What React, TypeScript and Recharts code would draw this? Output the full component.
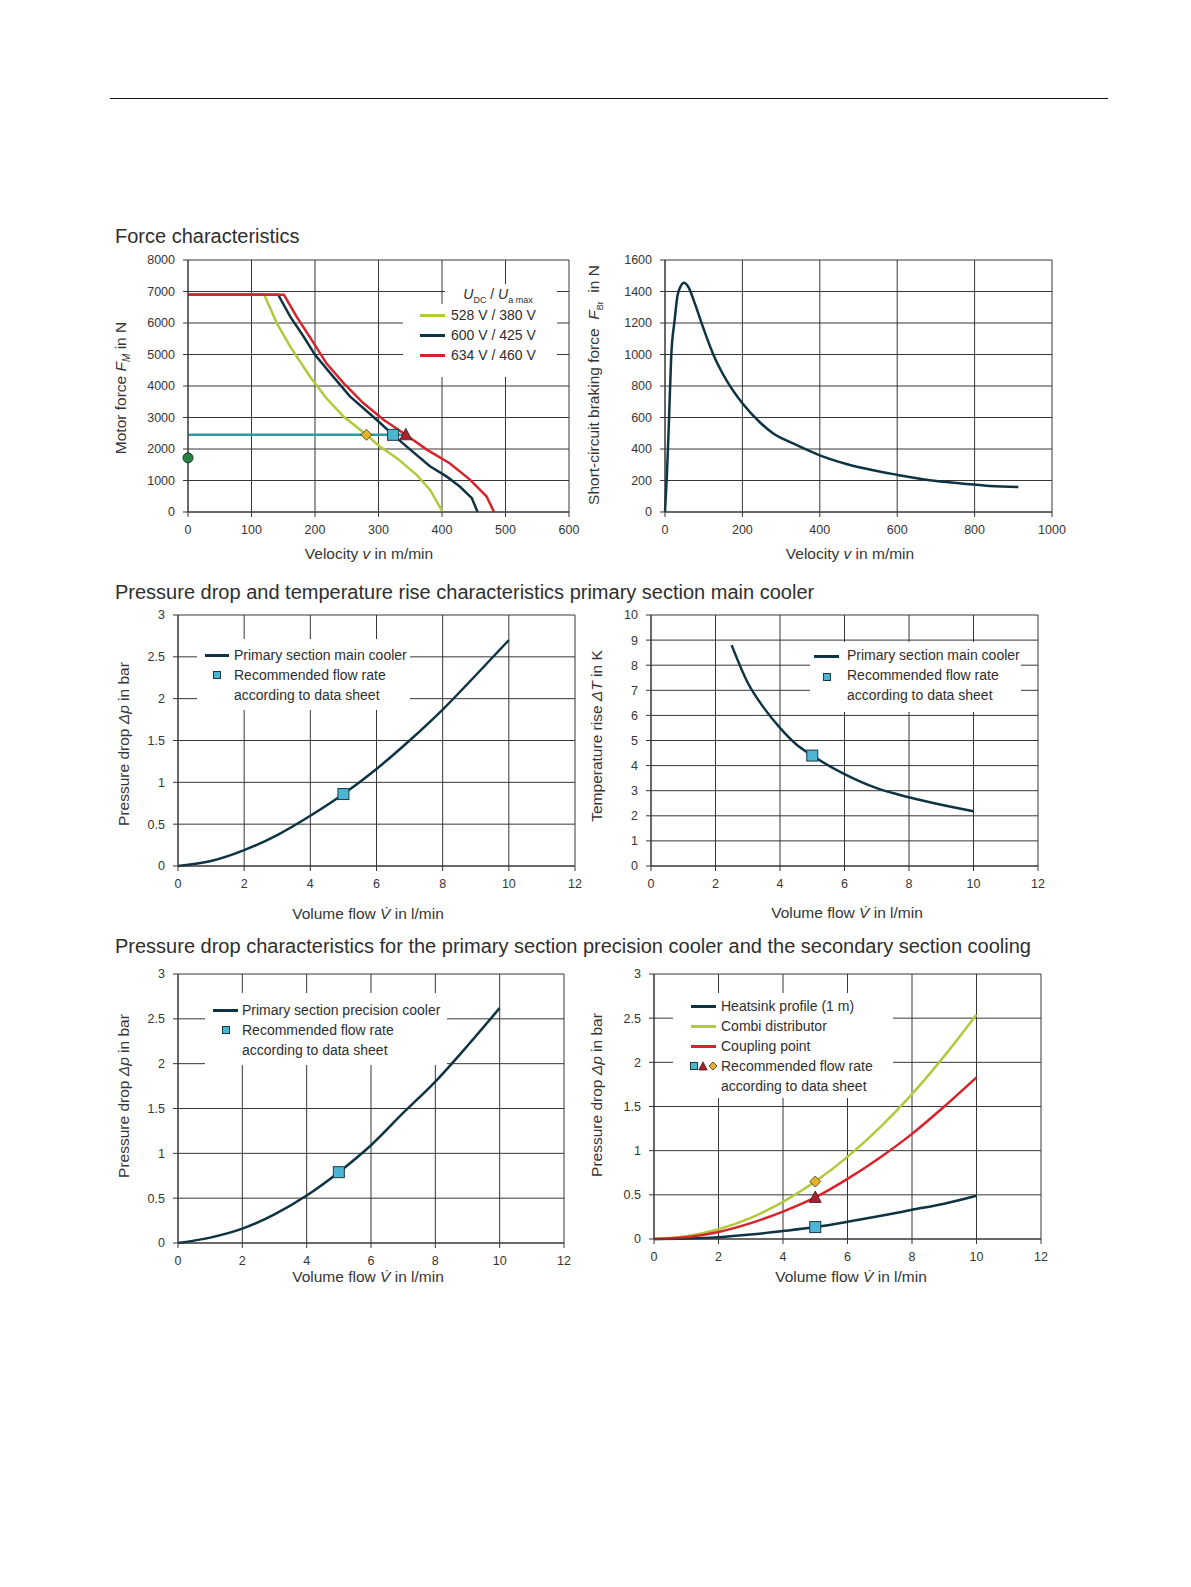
import React from "react";
import { ComposedChart, Line, Scatter, XAxis, YAxis, CartesianGrid } from "recharts";

// ---- Force characteristics (velocity in m/min, force in N) ----
const v528 = [0, 120, 140, 161, 192, 218, 245, 281, 302, 329, 360, 381, 401];
const f528 = [6900, 6900, 5990, 5250, 4300, 3610, 3030, 2450, 2080, 1710, 1180, 710, 0];
const v600 = [0, 142, 161, 182, 200, 224, 255, 297, 323, 350, 381, 407, 428, 447, 456];
const f600 = [6900, 6900, 6200, 5570, 4990, 4410, 3670, 2930, 2450, 1980, 1450, 1130, 810, 440, 0];
const v634 = [0, 151, 171, 198, 218, 245, 276, 308, 343, 376, 412, 444, 470, 482];
const f634 = [6900, 6900, 6200, 5360, 4720, 4090, 3460, 2930, 2450, 1980, 1550, 1030, 500, 0];
const opForce = 2450;
const opV = [281, 323, 343]; // diamond, square, triangle
const standstillForce = 1720;

// ---- Short-circuit braking force ----
const vBr = [0, 5, 10, 16, 25, 32, 42, 49, 60, 77, 98, 124, 159, 200, 245, 279, 331, 400, 469, 538, 598, 684, 771, 840, 913];
const fBr = [0, 240, 560, 985, 1220, 1370, 1440, 1455, 1430, 1325, 1175, 1005, 835, 690, 570, 500, 435, 360, 305, 265, 237, 201, 180, 165, 158];

// ---- Coolers (flow in l/min) ----
const flow = [0, 1, 2, 3, 4, 5, 6, 7, 8, 9, 10];
const dpMainCooler = [0, 0.06, 0.19, 0.37, 0.6, 0.86, 1.16, 1.5, 1.87, 2.28, 2.7];
const flowT = [2.5, 3, 3.5, 4, 4.5, 5, 6, 7, 8, 9, 10];
const dTMainCooler = [8.8, 7.3, 6.3, 5.5, 4.85, 4.4, 3.66, 3.1, 2.74, 2.44, 2.18];
const dpPrecision = [0, 0.06, 0.16, 0.32, 0.53, 0.79, 1.09, 1.45, 1.8, 2.2, 2.62];
const dpHeatsink = [0, 0.005, 0.02, 0.05, 0.09, 0.135, 0.195, 0.26, 0.33, 0.4, 0.49];
const dpCombi = [0, 0.03, 0.11, 0.24, 0.42, 0.65, 0.93, 1.26, 1.64, 2.07, 2.54];
const dpCoupling = [0, 0.02, 0.08, 0.18, 0.31, 0.47, 0.68, 0.92, 1.19, 1.5, 1.83];
const recFlow = 5;

// ---- ticks ----
const ticksV1 = [0, 100, 200, 300, 400, 500, 600];
const ticksF1 = [0, 1000, 2000, 3000, 4000, 5000, 6000, 7000, 8000];
const ticksV2 = [0, 200, 400, 600, 800, 1000];
const ticksF2 = [0, 200, 400, 600, 800, 1000, 1200, 1400, 1600];
const ticksFlow = [0, 2, 4, 6, 8, 10, 12];
const ticksDp = [0, 0.5, 1, 1.5, 2, 2.5, 3];
const ticksDT = [0, 1, 2, 3, 4, 5, 6, 7, 8, 9, 10];

const DARK = "#0e3443";
const GREEN = "#b3c83a";
const RED = "#d9232c";
const TEAL = "#2b9ba6";
const GRID = "#363636";
const TEXT = "#353535";
const FONT = "'Liberation Sans', Arial, Helvetica, sans-serif";

const zip = (xs: number[], ys: number[]) => xs.map((x, i) => ({ x, y: ys[i] }));
const pts = (xs: number[], y: number | number[]) =>
  xs.map((x, i) => ({ x, y: Array.isArray(y) ? y[i] : y }));

const SquareMark = (p: any) => (
  <rect x={p.cx - 5.5} y={p.cy - 5.5} width={11} height={11} fill="#4bb5d4" stroke="#1c3a44" strokeWidth={1} />
);
const TriMark = (p: any) => (
  <path d={`M${p.cx},${p.cy - 6.5} L${p.cx + 6},${p.cy + 5} L${p.cx - 6},${p.cy + 5} Z`} fill="#a8222f" stroke="#3a1418" strokeWidth={0.8} />
);
const DiaMark = (p: any) => (
  <path d={`M${p.cx},${p.cy - 5.5} L${p.cx + 5.5},${p.cy} L${p.cx},${p.cy + 5.5} L${p.cx - 5.5},${p.cy} Z`} fill="#e6b22c" stroke="#3a3014" strokeWidth={0.8} />
);
const DotMark = (p: any) => (
  <circle cx={p.cx} cy={p.cy} r={5} fill="#2a8046" stroke="#123a20" strokeWidth={1} />
);

const tickStyle = { fontSize: 12.5, fill: TEXT, fontFamily: FONT };

function Panel(props: {
  x: number; y: number; w: number; h: number;
  xDomain: [number, number]; xTicks: number[];
  yDomain: [number, number]; yTicks: number[];
  children: React.ReactNode;
}) {
  const padL = 50, padT = 12, padR = 26, padB = 32;
  return (
    <div style={{ position: "absolute", left: props.x - padL, top: props.y - padT }}>
      <ComposedChart
        width={props.w + padL + padR}
        height={props.h + padT + padB}
        margin={{ top: padT, right: padR, left: 0, bottom: 0 }}
      >
        <CartesianGrid stroke={GRID} strokeWidth={1} />
        <XAxis
          type="number"
          dataKey="x"
          domain={props.xDomain}
          ticks={props.xTicks}
          interval={0}
          height={padB}
          tick={tickStyle}
          tickSize={5}
          tickMargin={8}
          axisLine={{ stroke: GRID }}
          tickLine={{ stroke: GRID }}
        />
        <YAxis
          type="number"
          domain={props.yDomain}
          ticks={props.yTicks}
          interval={0}
          width={padL}
          tick={tickStyle}
          tickSize={5}
          tickMargin={8}
          axisLine={{ stroke: GRID }}
          tickLine={{ stroke: GRID }}
        />
        {props.children}
      </ComposedChart>
    </div>
  );
}

const abs = (left: number, top: number, extra: React.CSSProperties = {}): React.CSSProperties => ({
  position: "absolute", left, top, ...extra,
});

function Title({ x, y, children }: { x: number; y: number; children: React.ReactNode }) {
  return (
    <div style={abs(x, y, { fontSize: 20, lineHeight: "20px", transform: "translateY(-50%)", whiteSpace: "nowrap", color: "#2e2e2e" })}>
      {children}
    </div>
  );
}

function AxisLabel({ x, y, rotate, children }: { x: number; y: number; rotate?: boolean; children: React.ReactNode }) {
  return (
    <div
      style={abs(x, y, {
        fontSize: 15.5,
        lineHeight: "16px",
        whiteSpace: "nowrap",
        color: TEXT,
        transform: `translate(-50%, -50%)${rotate ? " rotate(-90deg)" : ""}`,
      })}
    >
      {children}
    </div>
  );
}

function Box({ x1, y1, x2, y2 }: { x1: number; y1: number; x2: number; y2: number }) {
  return <div style={abs(x1, y1, { width: x2 - x1, height: y2 - y1, background: "#fff" })} />;
}

function Swatch({ x1, x2, y, color }: { x1: number; x2: number; y: number; color: string }) {
  return <div style={abs(x1, y - 1.5, { width: x2 - x1, height: 3, background: color })} />;
}

function LText({ x, y, children }: { x: number; y: number; children: React.ReactNode }) {
  return (
    <div style={abs(x, y, { fontSize: 14, lineHeight: "14px", transform: "translateY(-50%)", whiteSpace: "nowrap", color: "#2e2e2e" })}>
      {children}
    </div>
  );
}

function MiniMark({ x, y, kind }: { x: number; y: number; kind: "sq" | "tri" | "dia" }) {
  return (
    <svg width={10} height={10} style={abs(x - 5, y - 5)}>
      {kind === "sq" && <rect x={1.5} y={1.5} width={7} height={7} fill="#4bb5d4" stroke="#1c3a44" strokeWidth={1} />}
      {kind === "tri" && <path d="M5,0.8 L9.2,9 L0.8,9 Z" fill="#a8222f" stroke="#3a1418" strokeWidth={0.7} />}
      {kind === "dia" && <path d="M5,1 L9,5 L5,9 L1,5 Z" fill="#e6b22c" stroke="#3a3014" strokeWidth={0.8} />}
    </svg>
  );
}

const Vdot = () => <i>V&#775;</i>;

export default function App() {
  const lw = 2.5;
  return (
    <div style={{ position: "absolute", left: 0, top: 0, width: 1191, height: 1587, background: "#fff", overflow: "hidden", fontFamily: FONT }}>
      <div style={abs(110, 98, { width: 998, height: 1.3, background: "#111" })} />

      {/* ---------- Force characteristics ---------- */}
      <Title x={115} y={236}>Force characteristics</Title>

      <Panel x={188} y={260} w={381} h={252} xDomain={[0, 600]} xTicks={ticksV1} yDomain={[0, 8000]} yTicks={ticksF1}>
        <Line data={pts([0, opV[2]], opForce)} dataKey="y" stroke={TEAL} strokeWidth={2.5} dot={false} isAnimationActive={false} type="linear" />
        <Line data={zip(v528, f528)} dataKey="y" stroke={GREEN} strokeWidth={lw} dot={false} isAnimationActive={false} type="linear" />
        <Line data={zip(v600, f600)} dataKey="y" stroke={DARK} strokeWidth={lw} dot={false} isAnimationActive={false} type="linear" />
        <Line data={zip(v634, f634)} dataKey="y" stroke={RED} strokeWidth={lw} dot={false} isAnimationActive={false} type="linear" />
        <Scatter data={pts([opV[0]], opForce)} dataKey="y" shape={DiaMark} isAnimationActive={false} />
        <Scatter data={pts([opV[1]], opForce)} dataKey="y" shape={SquareMark} isAnimationActive={false} />
        <Scatter data={pts([opV[2]], opForce)} dataKey="y" shape={TriMark} isAnimationActive={false} />
        <Scatter data={pts([0], standstillForce)} dataKey="y" shape={DotMark} isAnimationActive={false} />
      </Panel>
      <Box x1={445} y1={284} x2={557} y2={304} />
      <Box x1={403} y1={304} x2={557} y2={377} />
      <div style={abs(498, 297, { fontSize: 14, lineHeight: "14px", transform: "translate(-50%, -50%)", whiteSpace: "nowrap", color: "#2e2e2e" })}>
        <i>U</i><span style={{ fontSize: 9, verticalAlign: -4 }}>DC</span> / <i>U</i>
        <span style={{ fontSize: 9, verticalAlign: -4 }}>a max</span>
      </div>
      <Swatch x1={420} x2={445} y={315} color={GREEN} />
      <LText x={451} y={315}>528 V / 380 V</LText>
      <Swatch x1={420} x2={445} y={335} color={DARK} />
      <LText x={451} y={335}>600 V / 425 V</LText>
      <Swatch x1={420} x2={445} y={355} color={RED} />
      <LText x={451} y={355}>634 V / 460 V</LText>
      <AxisLabel x={369} y={554}>Velocity <i>v</i> in m/min</AxisLabel>
      <AxisLabel x={124} y={388} rotate>
        Motor force <i>F</i><i style={{ fontSize: 10, verticalAlign: -4 }}>M</i> in N
      </AxisLabel>

      <Panel x={665} y={260} w={387} h={252} xDomain={[0, 1000]} xTicks={ticksV2} yDomain={[0, 1600]} yTicks={ticksF2}>
        <Line data={zip(vBr, fBr)} dataKey="y" stroke={DARK} strokeWidth={lw} dot={false} isAnimationActive={false} type="monotone" />
      </Panel>
      <AxisLabel x={850} y={554}>Velocity <i>v</i> in m/min</AxisLabel>
      <AxisLabel x={597} y={385} rotate>
        Short-circuit braking force&nbsp; <i>F</i><span style={{ fontSize: 9, verticalAlign: -4 }}>Br</span>&nbsp; in N
      </AxisLabel>

      {/* ---------- Main cooler ---------- */}
      <Title x={115} y={592}>Pressure drop and temperature rise characteristics primary section main cooler</Title>

      <Panel x={178} y={615} w={397} h={251} xDomain={[0, 12]} xTicks={ticksFlow} yDomain={[0, 3]} yTicks={ticksDp}>
        <Line data={zip(flow, dpMainCooler)} dataKey="y" stroke={DARK} strokeWidth={lw} dot={false} isAnimationActive={false} type="monotone" />
        <Scatter data={pts([recFlow], dpMainCooler[flow.indexOf(recFlow)])} dataKey="y" shape={SquareMark} isAnimationActive={false} />
      </Panel>
      <Box x1={197} y1={639} x2={410} y2={710} />
      <Swatch x1={205} x2={229} y={655} color={DARK} />
      <LText x={234} y={655}>Primary section main cooler</LText>
      <MiniMark x={217} y={675} kind="sq" />
      <LText x={234} y={675}>Recommended flow rate</LText>
      <LText x={234} y={695}>according to data sheet</LText>
      <AxisLabel x={368} y={914}>Volume flow <Vdot /> in l/min</AxisLabel>
      <AxisLabel x={124} y={744} rotate>
        Pressure drop <i>Δp</i> in bar
      </AxisLabel>

      <Panel x={651} y={615} w={387} h={251} xDomain={[0, 12]} xTicks={ticksFlow} yDomain={[0, 10]} yTicks={ticksDT}>
        <Line data={zip(flowT, dTMainCooler)} dataKey="y" stroke={DARK} strokeWidth={lw} dot={false} isAnimationActive={false} type="monotone" />
        <Scatter data={pts([recFlow], dTMainCooler[flowT.indexOf(recFlow)])} dataKey="y" shape={SquareMark} isAnimationActive={false} />
      </Panel>
      <Box x1={810} y1={642} x2={1021} y2={712} />
      <Swatch x1={814} x2={839} y={656} color={DARK} />
      <LText x={847} y={655}>Primary section main cooler</LText>
      <MiniMark x={827} y={677} kind="sq" />
      <LText x={847} y={675}>Recommended flow rate</LText>
      <LText x={847} y={695}>according to data sheet</LText>
      <AxisLabel x={847} y={913}>Volume flow <Vdot /> in l/min</AxisLabel>
      <AxisLabel x={597} y={736} rotate>
        Temperature rise <i>ΔT</i> in K
      </AxisLabel>

      {/* ---------- Precision cooler / secondary ---------- */}
      <Title x={115} y={946}>Pressure drop characteristics for the primary section precision cooler and the secondary section cooling</Title>

      <Panel x={178} y={974} w={386} h={269} xDomain={[0, 12]} xTicks={ticksFlow} yDomain={[0, 3]} yTicks={ticksDp}>
        <Line data={zip(flow, dpPrecision)} dataKey="y" stroke={DARK} strokeWidth={lw} dot={false} isAnimationActive={false} type="monotone" />
        <Scatter data={pts([recFlow], dpPrecision[flow.indexOf(recFlow)])} dataKey="y" shape={SquareMark} isAnimationActive={false} />
      </Panel>
      <Box x1={205} y1={993} x2={447} y2={1065} />
      <Swatch x1={213} x2={238} y={1010} color={DARK} />
      <LText x={242} y={1010}>Primary section precision cooler</LText>
      <MiniMark x={226} y={1030} kind="sq" />
      <LText x={242} y={1030}>Recommended flow rate</LText>
      <LText x={242} y={1050}>according to data sheet</LText>
      <AxisLabel x={368} y={1277}>Volume flow <Vdot /> in l/min</AxisLabel>
      <AxisLabel x={124} y={1096} rotate>
        Pressure drop <i>Δp</i> in bar
      </AxisLabel>

      <Panel x={654} y={974} w={387} h={265} xDomain={[0, 12]} xTicks={ticksFlow} yDomain={[0, 3]} yTicks={ticksDp}>
        <Line data={zip(flow, dpHeatsink)} dataKey="y" stroke={DARK} strokeWidth={lw} dot={false} isAnimationActive={false} type="monotone" />
        <Line data={zip(flow, dpCombi)} dataKey="y" stroke={GREEN} strokeWidth={lw} dot={false} isAnimationActive={false} type="monotone" />
        <Line data={zip(flow, dpCoupling)} dataKey="y" stroke={RED} strokeWidth={lw} dot={false} isAnimationActive={false} type="monotone" />
        <Scatter data={pts([recFlow], dpHeatsink[flow.indexOf(recFlow)])} dataKey="y" shape={SquareMark} isAnimationActive={false} />
        <Scatter data={pts([recFlow], dpCoupling[flow.indexOf(recFlow)])} dataKey="y" shape={TriMark} isAnimationActive={false} />
        <Scatter data={pts([recFlow], dpCombi[flow.indexOf(recFlow)])} dataKey="y" shape={DiaMark} isAnimationActive={false} />
      </Panel>
      <Box x1={673} y1={993} x2={893} y2={1098} />
      <Swatch x1={691} x2={716} y={1006} color={DARK} />
      <LText x={721} y={1006}>Heatsink profile (1 m)</LText>
      <Swatch x1={691} x2={716} y={1026} color={GREEN} />
      <LText x={721} y={1026}>Combi distributor</LText>
      <Swatch x1={691} x2={716} y={1046} color={RED} />
      <LText x={721} y={1046}>Coupling point</LText>
      <MiniMark x={694} y={1066} kind="sq" />
      <MiniMark x={703} y={1066} kind="tri" />
      <MiniMark x={713} y={1066} kind="dia" />
      <LText x={721} y={1066}>Recommended flow rate</LText>
      <LText x={721} y={1086}>according to data sheet</LText>
      <AxisLabel x={851} y={1277}>Volume flow <Vdot /> in l/min</AxisLabel>
      <AxisLabel x={597} y={1095} rotate>
        Pressure drop <i>Δp</i> in bar
      </AxisLabel>
    </div>
  );
}
